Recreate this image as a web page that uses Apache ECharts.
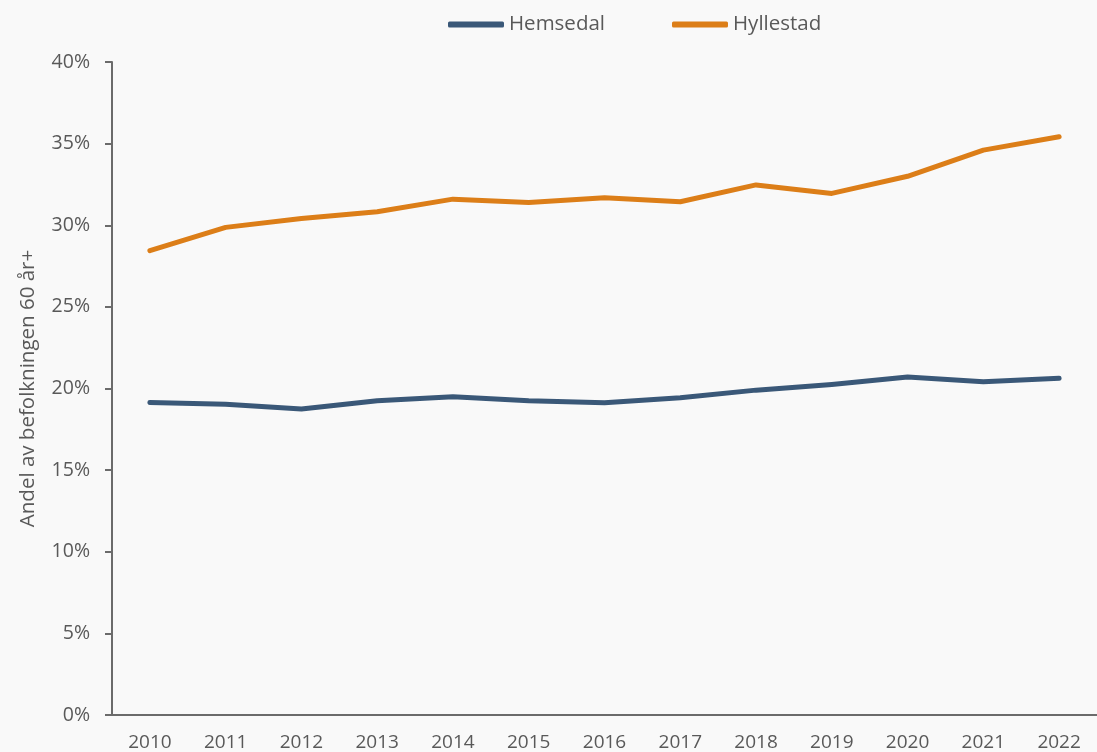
<!DOCTYPE html>
<html>
<head>
<meta charset="utf-8">
<script src="https://cdn.jsdelivr.net/npm/echarts@6/dist/echarts.min.js"></script>
<style>
    html, body { margin: 0; padding: 0; background: #f9f9f9; }
    #line_chart { width: 1097px; height: 752px; }
</style>
</head>
<body>
<div id="line_chart"></div>
<script>
// Chart data
// ------------------------------

var years = ['2010', '2011', '2012', '2013', '2014', '2015', '2016', '2017', '2018', '2019', '2020', '2021', '2022'];
var hemsedal = [19.15, 19.03, 18.74, 19.25, 19.5, 19.25, 19.13, 19.44, 19.9, 20.25, 20.7, 20.42, 20.63];
var hyllestad = [28.44, 29.87, 30.42, 30.83, 31.6, 31.4, 31.69, 31.44, 32.47, 31.95, 33.0, 34.6, 35.42];
var seriesNames = ['Hemsedal', 'Hyllestad'];


// Setup chart
// ------------------------------

var line_chart_element = document.getElementById('line_chart');
var line_chart = echarts.init(line_chart_element, null, { renderer: 'canvas' });

var labelColor = '#595959';
var axisColor = '#6b6b6b';

line_chart.setOption({

    backgroundColor: '#f9f9f9',
    animation: false,

    // Global text styles
    textStyle: {
        fontFamily: 'Open Sans',
        color: labelColor
    },

    // Setup grid
    grid: {
        left: 112,
        right: -6,
        top: 62,
        bottom: 37,
        containLabel: false
    },

    // Add legend
    legend: {
        data: seriesNames,
        left: 443,
        top: 9,
        icon: 'roundRect',
        itemWidth: 56,
        itemHeight: 6,
        itemGap: 67,
        itemTextGap: 4,
        textStyle: {
            fontSize: 20.5,
            color: labelColor
        }
    },

    // Horizontal axis
    xAxis: {
        type: 'category',
        data: years,
        boundaryGap: true,
        axisTick: { show: false },
        axisLine: {
            lineStyle: { color: axisColor, width: 2 }
        },
        axisLabel: {
            color: labelColor,
            fontSize: 19,
            margin: 18
        },
        splitLine: { show: false }
    },

    // Vertical axis
    yAxis: {
        type: 'value',
        min: 0,
        max: 40,
        interval: 5,
        name: 'Andel av befolkningen 60 år+',
        nameLocation: 'middle',
        nameGap: 73,
        nameMoveOverlap: false,
        nameTextStyle: {
            fontSize: 20.5,
            color: labelColor
        },
        axisLine: {
            show: true,
            lineStyle: { color: axisColor, width: 2 }
        },
        axisTick: {
            show: true,
            length: 7,
            lineStyle: { color: axisColor, width: 2 }
        },
        axisLabel: {
            color: labelColor,
            fontSize: 19.5,
            margin: 22,
            formatter: '{value}%'
        },
        splitLine: { show: false }
    },

    // Add series
    series: [
        {
            name: seriesNames[0],
            type: 'line',
            data: hemsedal,
            showSymbol: false,
            symbol: 'none',
            color: '#3a5878',
            lineStyle: { width: 5, cap: 'round', join: 'round' }
        },
        {
            name: seriesNames[1],
            type: 'line',
            data: hyllestad,
            showSymbol: false,
            symbol: 'none',
            color: '#dc7e18',
            lineStyle: { width: 5, cap: 'round', join: 'round' }
        }
    ]
});
</script>
</body>
</html>
